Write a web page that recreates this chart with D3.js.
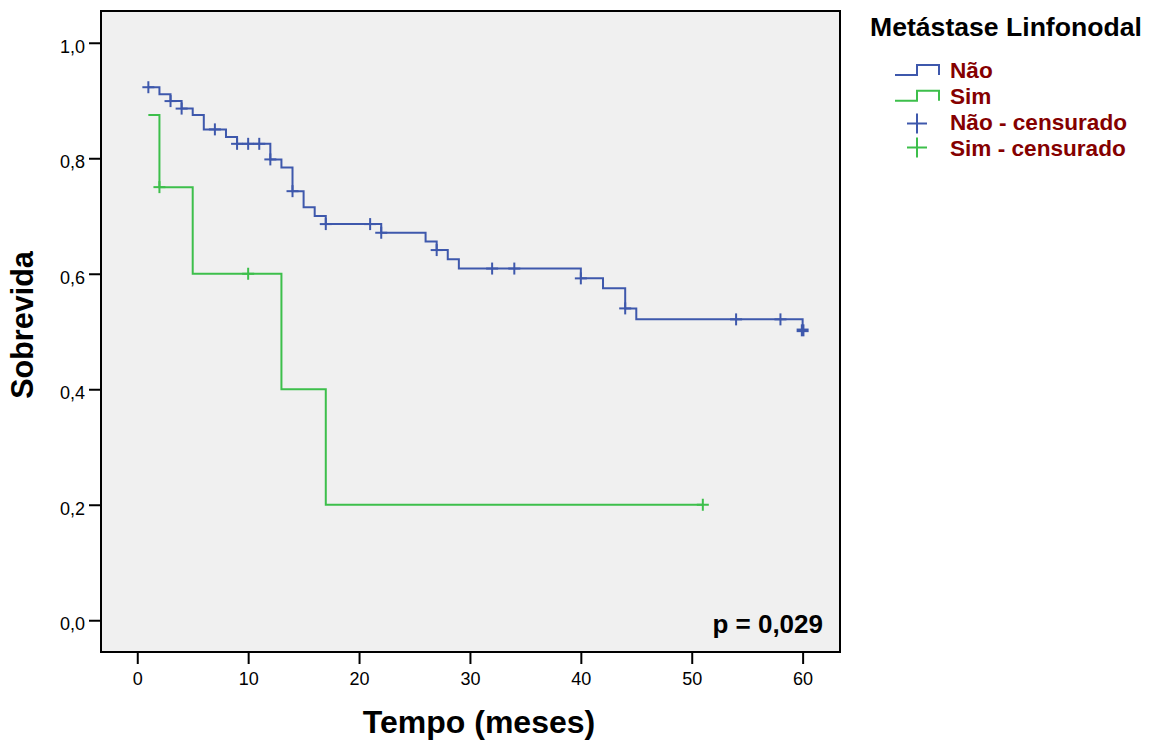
<!DOCTYPE html>
<html>
<head>
<meta charset="utf-8">
<script src="https://cdn.jsdelivr.net/npm/d3@7"></script>
<style>
  html, body { margin: 0; padding: 0; background: #ffffff; }
  svg { display: block; font-family: "Liberation Sans", Arial, Helvetica, sans-serif; }
</style>
</head>
<body>
<svg id="chart" width="1151" height="744"></svg>
<script>
// Kaplan–Meier survival by lymph-node metastasis (months of follow-up)

// Group "Não": event times and survival after each step
const naoTimes = [1, 2, 3, 4, 5, 6, 8, 9, 12, 13, 14, 15, 16, 17, 22, 26, 27, 28, 29, 40, 42, 44, 45, 60];
const naoSurv  = [0.923, 0.911, 0.899, 0.886, 0.875, 0.850, 0.837, 0.825, 0.798, 0.784, 0.743, 0.715,
                  0.700, 0.686, 0.671, 0.656, 0.641, 0.625, 0.609, 0.592, 0.575, 0.540, 0.521, 0.502];
const naoEnd = 60;
// censored observations (time, number of cases at that time)
const naoCensorTimes  = [1, 3, 4, 7, 9, 10, 11, 12, 14, 17, 21, 22, 27, 32, 34, 40, 44, 54, 58, 60];
const naoCensorCounts = [1, 1, 1, 1, 1, 1, 1, 1, 1, 1, 1, 1, 1, 1, 1, 1, 1, 1, 1, 2];

// Group "Sim"
const simTimes = [1, 2, 5, 13, 17];
const simSurv  = [0.875, 0.75, 0.60, 0.40, 0.20];
const simEnd = 51;
const simCensorTimes  = [2, 10, 51];
const simCensorCounts = [1, 1, 1];

// Axis ticks
const xTicks = [0, 10, 20, 30, 40, 50, 60];
const yTicks = [0.0, 0.2, 0.4, 0.6, 0.8, 1.0];

const pValueText = "p = 0,029";
const legendTitle = "Metástase Linfonodal";
const legendLabels = ["Não", "Sim", "Não - censurado", "Sim - censurado"];

const colNao = "#3e58ac";
const colSim = "#3dbf4b";
const colLegendText = "#850000";

const svg = d3.select("#chart");

// plot frame
const frame = { left: 101, right: 840, top: 11, bottom: 652 };

const x = d3.scaleLinear().domain([-3.27, 63.37]).range([frame.left, frame.right]);
const y = d3.scaleLinear().domain([-0.055, 1.055]).range([frame.bottom, frame.top]);

svg.append("rect")
  .attr("x", frame.left).attr("y", frame.top)
  .attr("width", frame.right - frame.left).attr("height", frame.bottom - frame.top)
  .attr("fill", "#f0f0f0");

const comma = v => d3.format(".1f")(v).replace(".", ",");

// y axis
const yAxis = svg.append("g")
  .attr("transform", `translate(${frame.left},0)`)
  .call(d3.axisLeft(y).tickValues(yTicks).tickFormat(comma).tickSize(12).tickPadding(4));
yAxis.select(".domain").remove();
yAxis.selectAll(".tick line").attr("stroke", "#000").attr("stroke-width", 2);
yAxis.selectAll(".tick text")
  .attr("fill", "#000").attr("font-size", 18).attr("dy", "0.52em")
  .style("font-family", "'Liberation Sans', Arial, sans-serif");

// x axis
const xAxis = svg.append("g")
  .attr("transform", `translate(0,${frame.bottom})`)
  .call(d3.axisBottom(x).tickValues(xTicks).tickFormat(d3.format("d")).tickSize(12).tickPadding(8));
xAxis.select(".domain").remove();
xAxis.selectAll(".tick line").attr("stroke", "#000").attr("stroke-width", 2);
xAxis.selectAll(".tick text")
  .attr("fill", "#000").attr("font-size", 18)
  .style("font-family", "'Liberation Sans', Arial, sans-serif");

// survival step curves
function stepPoints(times, surv, end) {
  const pts = times.map((t, i) => [t, surv[i]]);
  if (end > times[times.length - 1]) pts.push([end, surv[surv.length - 1]]);
  return pts;
}
function survAt(times, surv, t) {
  let s = surv[0];
  for (let i = 0; i < times.length; i++) if (times[i] <= t) s = surv[i];
  return s;
}

const line = d3.line().x(d => x(d[0])).y(d => y(d[1])).curve(d3.curveStepAfter);

const series = [
  { times: naoTimes, surv: naoSurv, end: naoEnd, cT: naoCensorTimes, cN: naoCensorCounts, color: colNao },
  { times: simTimes, surv: simSurv, end: simEnd, cT: simCensorTimes, cN: simCensorCounts, color: colSim }
];

// green first so blue sits on top
[series[1], series[0]].forEach(s => {
  svg.append("path")
    .datum(stepPoints(s.times, s.surv, s.end))
    .attr("d", line)
    .attr("fill", "none")
    .attr("stroke", s.color)
    .attr("stroke-width", 2);
});

// censor marks
const half = 6;
[series[1], series[0]].forEach(s => {
  const g = svg.append("g");
  s.cT.forEach((t, i) => {
    const cx = x(t), cy = y(survAt(s.times, s.surv, t));
    const w = 2 + (s.cN[i] - 1) * 1.6;
    g.append("line").attr("x1", cx - half).attr("x2", cx + half).attr("y1", cy).attr("y2", cy)
      .attr("stroke", s.color).attr("stroke-width", w);
    g.append("line").attr("x1", cx).attr("x2", cx).attr("y1", cy - half).attr("y2", cy + half)
      .attr("stroke", s.color).attr("stroke-width", w);
  });
});

// frame border
svg.append("rect")
  .attr("x", frame.left).attr("y", frame.top)
  .attr("width", frame.right - frame.left).attr("height", frame.bottom - frame.top)
  .attr("fill", "none").attr("stroke", "#000").attr("stroke-width", 2);

// p-value
svg.append("text")
  .attr("x", 823).attr("y", 633)
  .attr("text-anchor", "end")
  .attr("font-size", 26).attr("font-weight", "bold").attr("fill", "#000")
  .text(pValueText);

// axis titles
svg.append("text")
  .attr("x", 479).attr("y", 733)
  .attr("text-anchor", "middle")
  .attr("font-size", 32).attr("font-weight", "bold").attr("fill", "#000")
  .text("Tempo (meses)");

svg.append("text")
  .attr("transform", "translate(33,325) rotate(-90)")
  .attr("text-anchor", "middle")
  .attr("font-size", 30.5).attr("font-weight", "bold").attr("fill", "#000")
  .text("Sobrevida");

// legend
const lg = svg.append("g");
lg.append("text")
  .attr("x", 870).attr("y", 36)
  .attr("font-size", 26.6).attr("font-weight", "bold").attr("fill", "#000")
  .text(legendTitle);

const legendBaselines = [78, 104, 130, 156];
legendLabels.forEach((lab, i) => {
  lg.append("text")
    .attr("x", 950).attr("y", legendBaselines[i])
    .attr("font-size", 22.6).attr("font-weight", "bold").attr("fill", colLegendText)
    .text(lab);
});

// step symbols for curves
[[colNao, 75], [colSim, 100.7]].forEach(([c, yLow]) => {
  lg.append("path")
    .attr("d", `M895,${yLow}H917V${yLow - 10}H939V${yLow}`)
    .attr("fill", "none").attr("stroke", c).attr("stroke-width", 2);
});
// cross symbols for censored cases
[[colNao, 123.5], [colSim, 147.5]].forEach(([c, cy]) => {
  const cx = 917, h = 10;
  lg.append("line").attr("x1", cx - h).attr("x2", cx + h).attr("y1", cy).attr("y2", cy)
    .attr("stroke", c).attr("stroke-width", 2);
  lg.append("line").attr("x1", cx).attr("x2", cx).attr("y1", cy - h).attr("y2", cy + h)
    .attr("stroke", c).attr("stroke-width", 2);
});
</script>
</body>
</html>
